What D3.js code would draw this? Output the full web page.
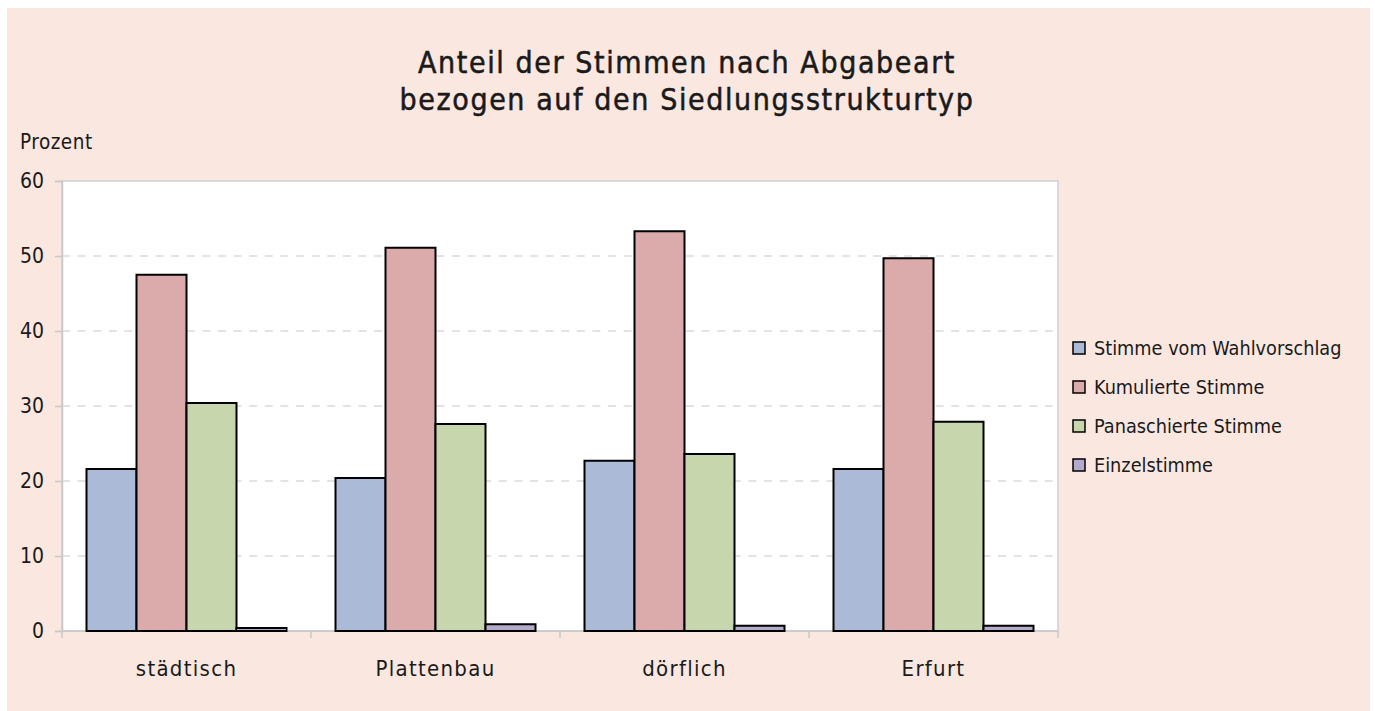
<!DOCTYPE html>
<html>
<head>
<meta charset="utf-8">
<script src="https://cdn.jsdelivr.net/npm/d3@7"></script>
<style>
  body { margin: 0; background: #fff; }
  text { font-family: "DejaVu Sans Condensed", "DejaVu Sans", sans-serif; fill: #1a1a1a; }
</style>
</head>
<body>
<svg id="chart" width="1375" height="711"></svg>
<script>
// data
var categories = ["städtisch", "Plattenbau", "dörflich", "Erfurt"];
var seriesNames = ["Stimme vom Wahlvorschlag", "Kumulierte Stimme", "Panaschierte Stimme", "Einzelstimme"];
var wahlvorschlag = [21.6, 20.4, 22.7, 21.6];
var kumuliert = [47.5, 51.1, 53.3, 49.7];
var panaschiert = [30.4, 27.6, 23.6, 27.9];
var einzel = [0.4, 0.9, 0.7, 0.7];
var yTicks = [0, 10, 20, 30, 40, 50, 60];
var colors = ["#abbad7", "#dbaaab", "#c8d6ad", "#b5aacb"];

var series = [wahlvorschlag, kumuliert, panaschiert, einzel];

var svg = d3.select("#chart");

// pink panel
svg.append("rect")
    .attr("x", 7).attr("y", 8)
    .attr("width", 1363).attr("height", 703)
    .attr("fill", "#f9e7e0");

var plot = {left: 62, right: 1058, top: 181, bottom: 631};

svg.append("rect")
    .attr("x", plot.left).attr("y", plot.top)
    .attr("width", plot.right - plot.left).attr("height", plot.bottom - plot.top)
    .attr("fill", "#fff")
    .attr("stroke", "#d0d0d0")
    .attr("stroke-width", 1.5);

var y = d3.scaleLinear().domain([0, 60]).range([plot.bottom, plot.top]);
var x0 = d3.scaleBand().domain(categories).range([plot.left, plot.right]).padding(0);
var x1 = d3.scaleBand().domain(d3.range(seriesNames.length))
    .range([0, x0.bandwidth()]).paddingInner(0).paddingOuter(0.49);

// grid lines
svg.append("g").selectAll("line")
    .data(yTicks.filter(function(t) { return t > 0 && t < 60; }))
    .join("line")
    .attr("x1", plot.left).attr("x2", plot.right)
    .attr("y1", function(d) { return y(d); })
    .attr("y2", function(d) { return y(d); })
    .attr("stroke", "#c8c8c8")
    .attr("stroke-width", 1.2)
    .attr("stroke-dasharray", "8,7.6");

// y axis
var yAxis = svg.append("g")
    .attr("transform", "translate(" + plot.left + ",0)")
    .call(d3.axisLeft(y).tickValues(yTicks).tickSize(7).tickPadding(11));
yAxis.attr("font-family", null);
yAxis.select(".domain").attr("stroke", "#c8c8c8").attr("stroke-width", 1.5);
yAxis.selectAll(".tick line").attr("stroke", "#c8c8c8").attr("stroke-width", 1.5);
yAxis.selectAll(".tick text")
    .style("font-size", "21px")
    .attr("fill", "#1a1a1a");

// x axis with ticks at band boundaries
var xAxis = svg.append("g");
xAxis.append("line")
    .attr("x1", plot.left).attr("x2", plot.right)
    .attr("y1", plot.bottom).attr("y2", plot.bottom)
    .attr("stroke", "#c8c8c8").attr("stroke-width", 1.5);
var bounds = categories.map(function(c) { return x0(c); }).concat([plot.right]);
xAxis.selectAll("line.tk")
    .data(bounds)
    .join("line")
    .attr("class", "tk")
    .attr("x1", function(d) { return d; }).attr("x2", function(d) { return d; })
    .attr("y1", plot.bottom).attr("y2", plot.bottom + 7)
    .attr("stroke", "#c8c8c8").attr("stroke-width", 1.5);
xAxis.selectAll("text")
    .data(categories)
    .join("text")
    .attr("x", function(d) { return x0(d) + x0.bandwidth() / 2; })
    .attr("y", 676)
    .attr("text-anchor", "middle")
    .style("font-size", "22px")
    .style("letter-spacing", "1.3px")
    .text(function(d) { return d; });

// bars
var groups = svg.append("g").selectAll("g")
    .data(categories)
    .join("g")
    .attr("transform", function(d) { return "translate(" + x0(d) + ",0)"; });

groups.selectAll("rect")
    .data(function(c, ci) {
        return series.map(function(s, si) { return {si: si, v: s[ci]}; });
    })
    .join("rect")
    .attr("x", function(d) { return x1(d.si); })
    .attr("width", x1.bandwidth())
    .attr("y", function(d) { return y(d.v); })
    .attr("height", function(d) { return y(0) - y(d.v); })
    .attr("fill", function(d) { return colors[d.si]; })
    .attr("stroke", "#000")
    .attr("stroke-width", 2);

// title
var title = svg.append("text")
    .attr("x", 687)
    .attr("text-anchor", "middle")
    .style("font-size", "30px")
    .style("letter-spacing", "1.6px")
    .attr("stroke", "#1a1a1a")
    .attr("stroke-width", 0.5);
title.append("tspan").attr("x", 687).attr("y", 73).text("Anteil der Stimmen nach Abgabeart");
title.append("tspan").attr("x", 687).attr("y", 110).text("bezogen auf den Siedlungsstrukturtyp");

svg.append("text")
    .attr("x", 20).attr("y", 149)
    .style("font-size", "20.5px")
    .style("letter-spacing", "0.5px")
    .text("Prozent");

// legend
var legend = svg.append("g").selectAll("g")
    .data(seriesNames)
    .join("g")
    .attr("transform", function(d, i) { return "translate(1073," + (348 + i * 39) + ")"; });
legend.append("rect")
    .attr("x", 0).attr("y", -6)
    .attr("width", 12).attr("height", 12)
    .attr("fill", function(d, i) { return colors[i]; })
    .attr("stroke", "#000").attr("stroke-width", 1.5);
legend.append("text")
    .attr("x", 21).attr("y", 7)
    .style("font-size", "19.7px")
    .text(function(d) { return d; });
</script>
</body>
</html>
